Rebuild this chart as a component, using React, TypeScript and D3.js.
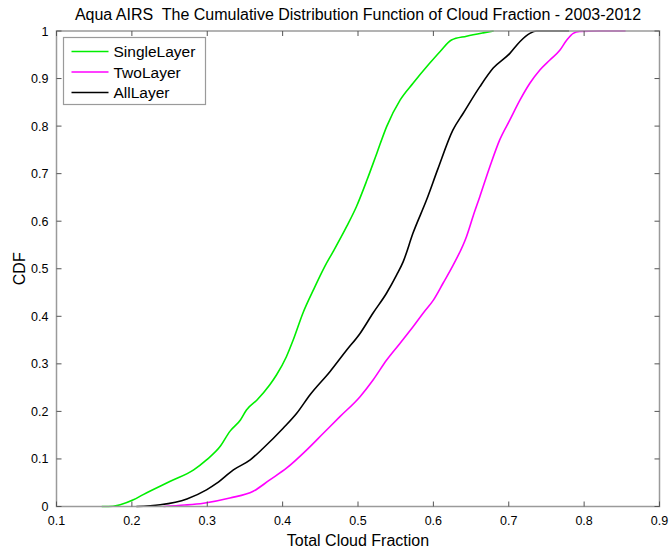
import React from "react";
import * as d3 from "d3";

// Total cloud fraction (x) and cumulative probability (y) for each layer class
const singleX = [0.16, 0.175, 0.1845, 0.202, 0.215, 0.251, 0.282, 0.299, 0.317, 0.33, 0.344, 0.352, 0.366, 0.383, 0.392, 0.405, 0.414, 0.427, 0.441, 0.456, 0.467, 0.485, 0.498, 0.512, 0.525, 0.538, 0.556, 0.573, 0.595, 0.609, 0.624, 0.644, 0.666, 0.68];
const singleY = [0, 0.0005, 0.0036, 0.014, 0.025, 0.053, 0.077, 0.098, 0.126, 0.158, 0.182, 0.203, 0.224, 0.256, 0.277, 0.315, 0.35, 0.407, 0.456, 0.505, 0.536, 0.589, 0.631, 0.687, 0.743, 0.799, 0.855, 0.89, 0.932, 0.957, 0.981, 0.989, 0.996, 1.0];

const twoX = [0.242, 0.27, 0.295, 0.33, 0.361, 0.383, 0.4055, 0.432, 0.454, 0.476, 0.5027, 0.52, 0.538, 0.5556, 0.573, 0.5866, 0.6, 0.613, 0.6264, 0.644, 0.653, 0.6617, 0.675, 0.688, 0.7015, 0.715, 0.728, 0.7413, 0.7546, 0.768, 0.777, 0.7855, 0.794, 0.82, 0.855];
const twoY = [0, 0.003, 0.007, 0.018, 0.032, 0.056, 0.081, 0.119, 0.154, 0.189, 0.231, 0.266, 0.308, 0.343, 0.378, 0.407, 0.434, 0.47, 0.508, 0.568, 0.612, 0.652, 0.715, 0.771, 0.813, 0.855, 0.89, 0.918, 0.939, 0.96, 0.981, 0.995, 0.999, 1.0, 1.0];

const allX = [0.206, 0.2375, 0.273, 0.299, 0.3127, 0.3347, 0.357, 0.3745, 0.401, 0.4187, 0.4364, 0.463, 0.485, 0.5027, 0.52, 0.538, 0.5513, 0.56, 0.573, 0.591, 0.606, 0.626, 0.6396, 0.6617, 0.6794, 0.7015, 0.715, 0.728, 0.737, 0.76, 0.78];
const allY = [0, 0.0036, 0.016, 0.035, 0.049, 0.077, 0.098, 0.123, 0.165, 0.196, 0.235, 0.284, 0.329, 0.364, 0.407, 0.449, 0.487, 0.515, 0.575, 0.645, 0.71, 0.792, 0.827, 0.883, 0.922, 0.953, 0.978, 0.995, 1.0, 1.0, 1.0];

const seriesNames = ["SingleLayer", "TwoLayer", "AllLayer"];
const seriesColors = ["#00ee00", "#ff00ff", "#000000"];

const xTicks = [0.1, 0.2, 0.3, 0.4, 0.5, 0.6, 0.7, 0.8, 0.9];
const yTicks = [0, 0.1, 0.2, 0.3, 0.4, 0.5, 0.6, 0.7, 0.8, 0.9, 1];

const titleText = "Aqua AIRS  The Cumulative Distribution Function of Cloud Fraction - 2003-2012";
const xLabel = "Total Cloud Fraction";
const yLabel = "CDF";

const W = 670;
const H = 550;
const left = 56.5;
const right = 659.5;
const top = 31;
const bottom = 506.5;

const FONT = "'Liberation Sans', Arial, Helvetica, sans-serif";

export default function App() {
  const x = d3.scaleLinear().domain([0.1, 0.9]).range([left, right]);
  const y = d3.scaleLinear().domain([0, 1]).range([bottom, top]);

  const line = d3
    .line<[number, number]>()
    .x((d) => x(d[0]))
    .y((d) => y(d[1]))
    .curve(d3.curveMonotoneX);

  const series = [
    d3.zip(singleX, singleY) as [number, number][],
    d3.zip(twoX, twoY) as [number, number][],
    d3.zip(allX, allY) as [number, number][],
  ];

  const tickLen = 5;
  const tickColor = "#555";
  const frameColor = "#9a9a9a";

  const legX = 63.5;
  const legY = 37.5;
  const legW = 142;
  const legH = 67;
  const rowH = 20.5;

  return (
    <svg
      width={W}
      height={H}
      style={{ position: "absolute", left: 0, top: 0, background: "#fff" }}
      fontFamily={FONT}
    >
      <rect x={0} y={0} width={W} height={H} fill="#fff" />
      <text
        x={358}
        y={20}
        textAnchor="middle"
        fontSize={16}
        fill="#000"
        style={{ whiteSpace: "pre" }}
      >
        {titleText}
      </text>

      {/* curves */}
      <g fill="none" strokeWidth={1.6} strokeLinejoin="round">
        {series.map((s, i) => (
          <path key={i} d={line(s) || ""} stroke={seriesColors[i]} />
        ))}
      </g>

      {/* frame */}
      <rect
        x={left}
        y={top}
        width={right - left}
        height={bottom - top}
        fill="none"
        stroke={frameColor}
        strokeWidth={1.5}
      />

      {/* ticks on all four sides, pointing inward */}
      <g stroke={tickColor} strokeWidth={1}>
        {xTicks.map((t) => (
          <g key={t}>
            <line x1={x(t)} x2={x(t)} y1={bottom} y2={bottom - tickLen} />
            <line x1={x(t)} x2={x(t)} y1={top} y2={top + tickLen} />
          </g>
        ))}
        {yTicks.map((t) => (
          <g key={t}>
            <line x1={left} x2={left + tickLen} y1={y(t)} y2={y(t)} />
            <line x1={right} x2={right - tickLen} y1={y(t)} y2={y(t)} />
          </g>
        ))}
      </g>

      <g fontSize={12.5} fill="#000">
        {xTicks.map((t) => (
          <text key={t} x={x(t)} y={bottom + 18} textAnchor="middle">
            {d3.format("")(t)}
          </text>
        ))}
        {yTicks.map((t) => (
          <text key={t} x={left - 8} y={y(t) + 4.5} textAnchor="end">
            {d3.format("")(t)}
          </text>
        ))}
      </g>

      <text x={358} y={546} textAnchor="middle" fontSize={16} fill="#000">
        {xLabel}
      </text>
      <text
        transform={`translate(25, ${(top + bottom) / 2}) rotate(-90)`}
        textAnchor="middle"
        fontSize={16}
        fill="#000"
      >
        {yLabel}
      </text>

      {/* legend */}
      <rect
        x={legX}
        y={legY}
        width={legW}
        height={legH}
        fill="#fff"
        stroke={frameColor}
        strokeWidth={1.2}
      />
      {seriesNames.map((name, i) => {
        const cy = legY + 14 + i * rowH;
        return (
          <g key={name}>
            <line
              x1={legX + 8}
              x2={legX + 45}
              y1={cy}
              y2={cy}
              stroke={seriesColors[i]}
              strokeWidth={1.6}
            />
            <text x={legX + 50} y={cy + 5.5} fontSize={15.5} fill="#000">
              {name}
            </text>
          </g>
        );
      })}
    </svg>
  );
}
